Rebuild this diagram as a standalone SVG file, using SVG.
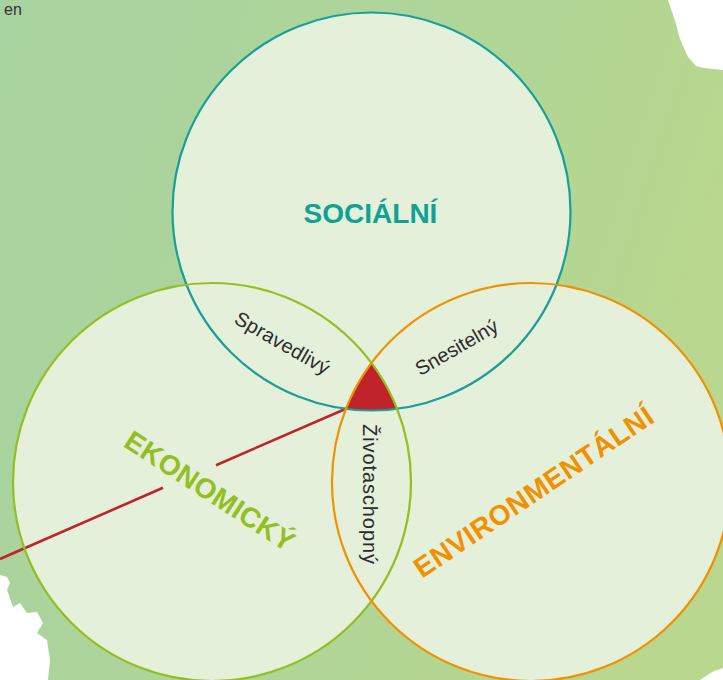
<svg xmlns="http://www.w3.org/2000/svg" width="723" height="680" viewBox="0 0 723 680">
  <defs>
    <linearGradient id="bg" x1="0" y1="0" x2="1" y2="0.3">
      <stop offset="0" stop-color="#a7d3a0"/>
      <stop offset="0.6" stop-color="#afd598"/>
      <stop offset="1" stop-color="#b9d78e"/>
    </linearGradient>
    <style>
      .fill { fill: #e4f0da; }
      .ring { fill: none; stroke-width: 2.2; }
      .big { font-family: "Liberation Sans", Arial, sans-serif; font-weight: bold; font-size: 28px; text-anchor: middle; }
      .small { font-family: "Liberation Sans", Arial, sans-serif; font-size: 20px; fill: #2b2b2b; }
    </style>
  </defs>

  <g id="background">
    <rect x="0" y="0" width="723" height="680" fill="url(#bg)"/>
    <polygon fill="#ffffff" points="668,0 672,12 676,24 679,36 683,46 688,57 696,66 704,68 723,70 723,0"/>
    <polygon fill="#ffffff" points="0,575 7,577 10,583 7,590 13,607 20,603 27,613 37,612 43,623 37,633 47,640 50,660 48,680 0,680"/>
    <polygon fill="#ffffff" points="700,680 712,672 723,668 723,680"/>
    <text x="4" y="15" font-family="'Liberation Sans', Arial, sans-serif" font-size="16" fill="#333333">en</text>
  </g>

  <g id="circle-fills">
    <circle class="fill" cx="371.5" cy="211.5" r="199"/>
    <circle class="fill" cx="212" cy="482" r="199"/>
    <circle class="fill" cx="531" cy="482" r="199"/>
  </g>

  <g id="node-center">
    <path fill="#c1232b" d="M 371.5 363 A 199 199 0 0 0 345.9 408.85 A 199 199 0 0 0 397.1 408.85 A 199 199 0 0 0 371.5 363 Z"/>
  </g>

  <g id="connectors">
    <line x1="345.9" y1="408.8" x2="216" y2="465.2" stroke="#c1232b" stroke-width="2.6"/>
    <line x1="163" y1="487.8" x2="0" y2="559" stroke="#c1232b" stroke-width="2.6"/>
  </g>

  <g id="node-social">
    <circle class="ring" cx="371.5" cy="211.5" r="199" stroke="#179f98"/>
    <text class="big" x="370.5" y="223" fill="#11a195">SOCIÁLNÍ</text>
  </g>

  <g id="node-economic">
    <circle class="ring" cx="212" cy="482" r="199" stroke="#92bf22"/>
    <text class="big" x="204.5" y="499" fill="#92bf22" transform="rotate(33 204.5 499)" textLength="196" lengthAdjust="spacing">EKONOMICKÝ</text>
  </g>

  <g id="node-environmental">
    <circle class="ring" cx="531" cy="482" r="199" stroke="#f29100"/>
    <text class="big" x="539" y="500" fill="#f29100" transform="rotate(-34 539 500)" textLength="282" lengthAdjust="spacing">ENVIRONMENTÁLNÍ</text>
  </g>

  <g id="node-spravedlivy">
    <text class="small" x="279" y="349" text-anchor="middle" textLength="106" lengthAdjust="spacing" transform="rotate(30 279 349)">Spravedlivý</text>
  </g>
  <g id="node-snesitelny">
    <text class="small" x="460" y="353.3" text-anchor="middle" textLength="92" lengthAdjust="spacing" transform="rotate(-30 460 353.3)">Snesitelný</text>
  </g>
  <g id="node-zivotaschopny">
    <text class="small" x="362.5" y="424" textLength="140" lengthAdjust="spacing" transform="rotate(90 362.5 424)">Životaschopný</text>
  </g>
</svg>
